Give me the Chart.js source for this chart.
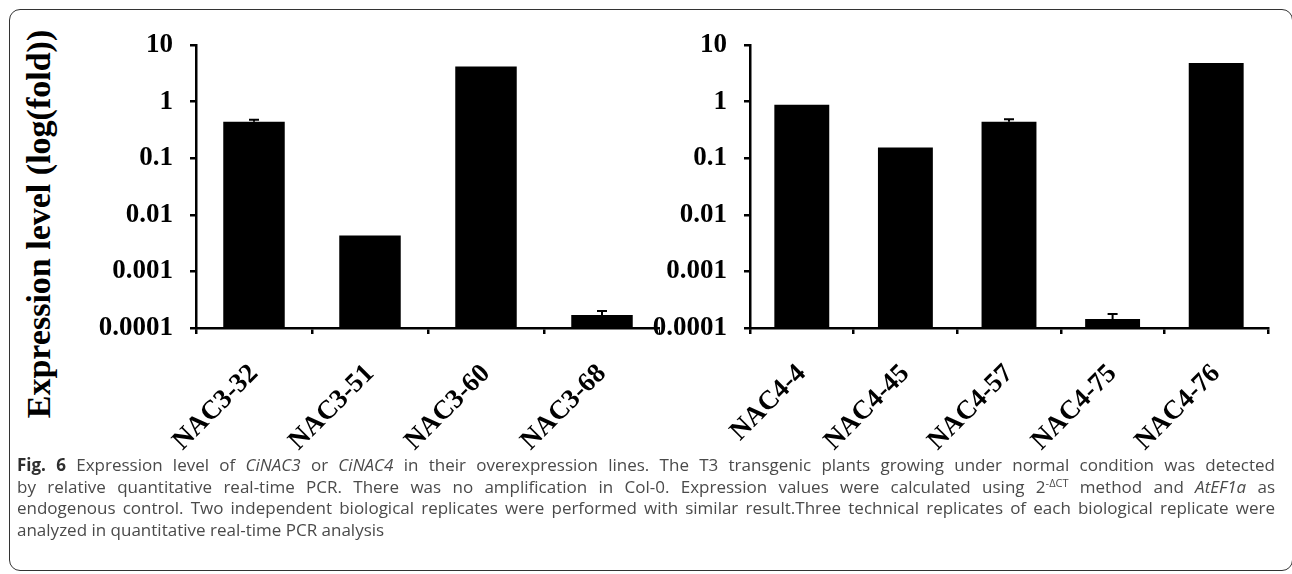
<!DOCTYPE html>
<html>
<head>
<meta charset="utf-8">
<script src="https://cdn.jsdelivr.net/npm/chart.js@4.4.1/dist/chart.umd.min.js"></script>
<style>
  body { margin: 0; background: #fff; width: 1292px; height: 574px; overflow: hidden; position: relative; }
  #frame { position: absolute; left: 9px; top: 9px; width: 1284px; height: 562px; border: 1.5px solid #333; border-radius: 11px; box-sizing: border-box; }
  #ytitle { position: absolute; left: -173.5px; top: 206.5px; width: 420px; height: 34px; line-height: 34px; text-align: center;
            font: bold 34px "Liberation Serif", serif; color: #000; transform: rotate(-90deg); white-space: nowrap; }
  #cLeft { position: absolute; left: 60px; top: 0; }
  #cRight { position: absolute; left: 640px; top: 0; }
  #caption { position: absolute; left: 17px; top: 454px; width: 1258px; font: 17px "Open Sans", sans-serif; color: #4a4a4a; line-height: 21.7px; }
  #caption .ln { white-space: nowrap; }
  #caption .j { text-align: justify; text-align-last: justify; }
  #caption b { color: #2e2e2e; }
  #caption sup { font-size: 11px; line-height: 0; vertical-align: 6px; }
</style>
</head>
<body>
<div id="frame"></div>
<div id="ytitle">Expression level (log(fold))</div>
<canvas id="cLeft" width="600" height="455"></canvas>
<canvas id="cRight" width="640" height="455"></canvas>
<div id="caption">
  <div class="ln j"><b>Fig. 6</b> Expression level of <i>CiNAC3</i> or <i>CiNAC4</i> in their overexpression lines. The T3 transgenic plants growing under normal condition was detected</div>
  <div class="ln j">by relative quantitative real-time PCR. There was no amplification in Col-0. Expression values were calculated using 2<sup>-ΔCT</sup> method and <i>AtEF1a</i> as</div>
  <div class="ln j">endogenous control. Two independent biological replicates were performed with similar result.Three technical replicates of each biological replicate were</div>
  <div class="ln">analyzed in quantitative real-time PCR analysis</div>
</div>
<script>
// values (fold, log axis)
const nac3Labels = ['NAC3-32', 'NAC3-51', 'NAC3-60', 'NAC3-68'];
const nac3Values = [0.44, 0.0043, 4.15, 0.00017];
const nac3Errors = [0.04, 0, 0, 0.00003];

const nac4Labels = ['NAC4-4', 'NAC4-45', 'NAC4-57', 'NAC4-75', 'NAC4-76'];
const nac4Values = [0.88, 0.155, 0.44, 0.000144, 4.8];
const nac4Errors = [0, 0, 0.05, 0.000033, 0];

const yTicks = [0.0001, 0.001, 0.01, 0.1, 1, 10];

const tickFont = { family: 'Liberation Serif', size: 27, weight: 'bold' };

// upper error bars, drawn with the chart's own y scale
const errorBars = {
  id: 'errorBars',
  afterDatasetsDraw(chart) {
    const ctx = chart.ctx;
    const y = chart.scales.y;
    const ds = chart.data.datasets[0];
    const meta = chart.getDatasetMeta(0);
    ctx.save();
    ctx.strokeStyle = '#000';
    ctx.lineWidth = 2;
    meta.data.forEach((bar, i) => {
      const e = ds.errors[i];
      if (!e) return;
      const top = y.getPixelForValue(ds.data[i] + e);
      ctx.beginPath();
      ctx.moveTo(bar.x, bar.y);
      ctx.lineTo(bar.x, top);
      ctx.moveTo(bar.x - 5, top);
      ctx.lineTo(bar.x + 5, top);
      ctx.stroke();
    });
    ctx.restore();
  }
};

function makeChart(id, labels, values, errors, yWidth, padRight) {
  return new Chart(document.getElementById(id), {
    type: 'bar',
    data: {
      labels: labels,
      datasets: [{
        data: values,
        errors: errors,
        backgroundColor: '#000',
        borderWidth: 0,
        barPercentage: 1,
        categoryPercentage: 0.53
      }]
    },
    options: {
      responsive: false,
      animation: false,
      layout: { padding: { top: 45, right: padRight, left: 0, bottom: 0 } },
      plugins: { legend: { display: false }, tooltip: { enabled: false } },
      scales: {
        y: {
          type: 'logarithmic',
          min: 0.0001,
          max: 10,
          afterBuildTicks: s => { s.ticks = yTicks.map(v => ({ value: v })); },
          afterFit: s => { s.width = yWidth; },
          ticks: { callback: v => String(v), font: tickFont, color: '#000', padding: 17 },
          grid: { drawOnChartArea: false, tickLength: 6, color: '#000', lineWidth: 2.5 },
          border: { color: '#000', width: 2.5 }
        },
        x: {
          afterFit: s => { s.height = 127; },
          ticks: { minRotation: 45, maxRotation: 45, autoSkip: false, font: tickFont, color: '#000', padding: 24 },
          grid: { drawOnChartArea: false, offset: true, tickLength: 6, color: '#000', lineWidth: 2.5 },
          border: { color: '#000', width: 2.5 }
        }
      }
    },
    plugins: [errorBars]
  });
}

makeChart('cLeft', nac3Labels, nac3Values, nac3Errors, 136, -14);
makeChart('cRight', nac4Labels, nac4Values, nac4Errors, 110, 12);
</script>
</body>
</html>
